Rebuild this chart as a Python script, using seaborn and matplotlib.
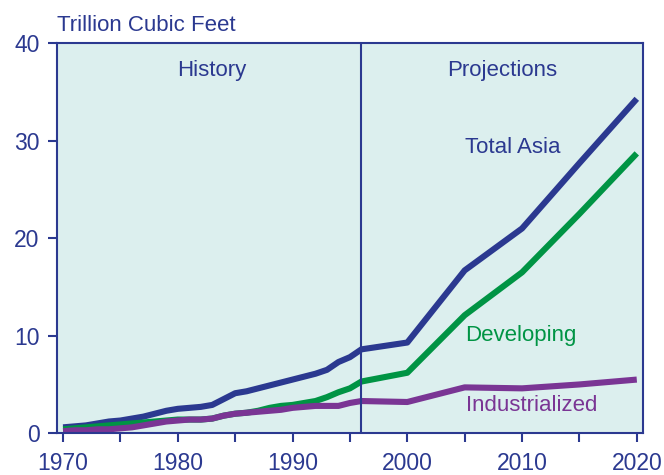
import pandas as pd
import matplotlib
matplotlib.use("Agg")
import matplotlib.pyplot as plt
import seaborn as sns

# Data (trillion cubic feet)
years = [1970, 1971, 1972, 1973, 1974, 1975, 1976, 1977, 1978, 1979,
         1980, 1981, 1982, 1983, 1984, 1985, 1986, 1987, 1988, 1989,
         1990, 1991, 1992, 1993, 1994, 1995, 1996, 2000, 2005, 2010, 2015, 2020]
total_asia = [0.6, 0.7, 0.8, 1.0, 1.2, 1.3, 1.5, 1.7, 2.0, 2.3,
              2.5, 2.6, 2.7, 2.9, 3.5, 4.1, 4.3, 4.6, 4.9, 5.2,
              5.5, 5.8, 6.1, 6.5, 7.3, 7.8, 8.6, 9.3, 16.7, 21.0, 27.7, 34.3]
developing = [0.4, 0.5, 0.6, 0.7, 0.8, 0.9, 1.0, 1.1, 1.2, 1.3,
              1.4, 1.4, 1.4, 1.5, 1.8, 2.0, 2.1, 2.3, 2.6, 2.8,
              2.9, 3.1, 3.3, 3.7, 4.2, 4.6, 5.3, 6.2, 12.1, 16.5, 22.5, 28.7]
industrialized = [0.2, 0.3, 0.3, 0.4, 0.4, 0.5, 0.6, 0.8, 1.0, 1.2,
                  1.3, 1.4, 1.4, 1.5, 1.8, 2.0, 2.1, 2.2, 2.3, 2.4,
                  2.6, 2.7, 2.8, 2.8, 2.8, 3.1, 3.3, 3.2, 4.7, 4.6, 5.0, 5.5]

series_names = ["Total Asia", "Developing", "Industrialized"]
colors = ["#2b3990", "#009444", "#7a3594"]
navy = "#2b3990"

df = pd.DataFrame({
    "year": years * 3,
    "value": total_asia + developing + industrialized,
    "series": [s for s in series_names for _ in years],
})

sns.set_style("white")
plt.rcParams["font.family"] = ["Liberation Sans", "DejaVu Sans"]

fig = plt.figure(figsize=(6.64, 4.75), dpi=100)
ax = fig.add_axes([0.086, 0.088, 0.882, 0.821])
ax.set_facecolor("#dcefee")

sns.lineplot(data=df, x="year", y="value", hue="series", hue_order=series_names,
             palette=colors, linewidth=4.4, legend=False, ax=ax,
             solid_capstyle="butt", solid_joinstyle="round")

ax.axvline(1996, color=navy, lw=1.5)

ax.set_xlim(1969.48, 2020.52)
ax.set_ylim(0, 40)
ax.set_xticks(range(1970, 2021, 10))
ax.set_xticks(range(1975, 2021, 10), minor=True)
ax.set_yticks(range(0, 41, 10))
ax.set_xlabel("")
ax.set_ylabel("")

for sp in ax.spines.values():
    sp.set_color(navy)
    sp.set_linewidth(1.5)
ax.tick_params(axis="x", which="both", direction="out", length=6.5, width=1.5,
               color=navy, labelcolor=navy, labelsize=16.5, pad=7, bottom=True)
ax.tick_params(axis="y", which="both", direction="out", length=6.5, width=1.5,
               color=navy, labelcolor=navy, labelsize=16.5, pad=6, left=True)

fs = 16
ax.text(1983, 37.2, "History", color=navy, fontsize=fs, ha="center", va="center")
ax.text(2008.3, 37.2, "Projections", color=navy, fontsize=fs, ha="center", va="center")
ax.text(2009.2, 29.3, "Total Asia", color=colors[0], fontsize=fs, ha="center", va="center")
ax.text(2009.9, 10.0, "Developing", color=colors[1], fontsize=fs, ha="center", va="center")
ax.text(2010.8, 2.8, "Industrialized", color=colors[2], fontsize=fs, ha="center", va="center")

fig.text(0.086, 0.947, "Trillion Cubic Feet", color=navy, fontsize=fs, ha="left", va="center")

fig.savefig("out.png", dpi=100)
